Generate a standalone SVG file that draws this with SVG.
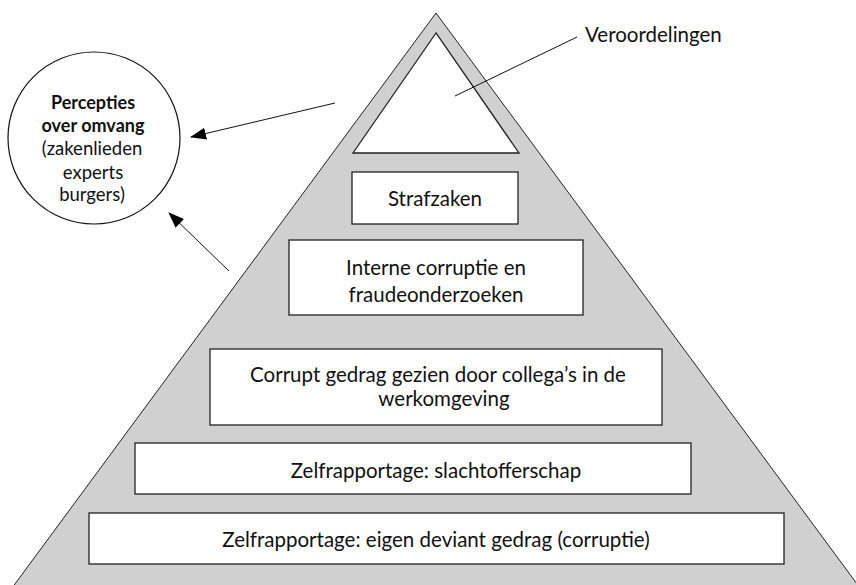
<svg xmlns="http://www.w3.org/2000/svg" width="856" height="585" viewBox="0 0 856 585">
<style>
text{font-family:Lato,"Open Sans","Liberation Sans",sans-serif;font-size:20.5px;fill:#111;text-anchor:middle}
.box{fill:#fff;stroke:#222;stroke-width:1.3}
.b{font-weight:bold;font-size:18px}
.c{font-size:18.5px}
.ln{stroke:#111;stroke-width:1;fill:none}
</style>
<defs>
<marker id="ah" markerWidth="16" markerHeight="12" refX="15" refY="6" orient="auto" markerUnits="userSpaceOnUse">
<path d="M0,0 L16,6 L0,12 Z" fill="#000"/>
</marker>
</defs>
<rect width="856" height="585" fill="#fff"/>
<g id="pyramid">
<polygon points="436,13 12,588 860,588" fill="#d0d0d0" stroke="#222" stroke-width="1"/>
</g>
<g id="veroordelingen">
<polygon points="436,33 353,153 519,153" fill="#fff" stroke="#222" stroke-width="1.3"/>
<text x="585" y="42" style="text-anchor:start">Veroordelingen</text>
</g>
<g id="strafzaken">
<rect class="box" x="352" y="172" width="166" height="52"/>
<text x="435" y="206">Strafzaken</text>
</g>
<g id="interne">
<rect class="box" x="289" y="240" width="294" height="75"/>
<text x="436" y="275">Interne corruptie en</text>
<text x="436" y="302">fraudeonderzoeken</text>
</g>
<g id="collegas">
<rect class="box" x="210" y="349" width="452" height="76"/>
<text x="438" y="382">Corrupt gedrag gezien door collega’s in de</text>
<text x="444" y="406">werkomgeving</text>
</g>
<g id="slachtoffer">
<rect class="box" x="135" y="443" width="556" height="51"/>
<text x="436" y="478">Zelfrapportage: slachtofferschap</text>
</g>
<g id="eigen">
<rect class="box" x="89" y="513" width="695" height="51"/>
<text x="436" y="547">Zelfrapportage: eigen deviant gedrag (corruptie)</text>
</g>
<g id="percepties">
<circle cx="94" cy="138" r="86" fill="#fff" stroke="#111" stroke-width="1.2"/>
<text class="b" x="93" y="109">Percepties</text>
<text class="b" x="93" y="132">over omvang</text>
<text class="c" x="92" y="155">(zakenlieden</text>
<text class="c" x="93" y="179">experts</text>
<text class="c" x="92" y="201">burgers)</text>
</g>
<g id="connectors">
<line class="ln" x1="455" y1="96" x2="577" y2="37"/>
<line class="ln" x1="335" y1="103" x2="191" y2="137" marker-end="url(#ah)"/>
<line class="ln" x1="229" y1="271" x2="169" y2="213" marker-end="url(#ah)"/>
</g>
</svg>
